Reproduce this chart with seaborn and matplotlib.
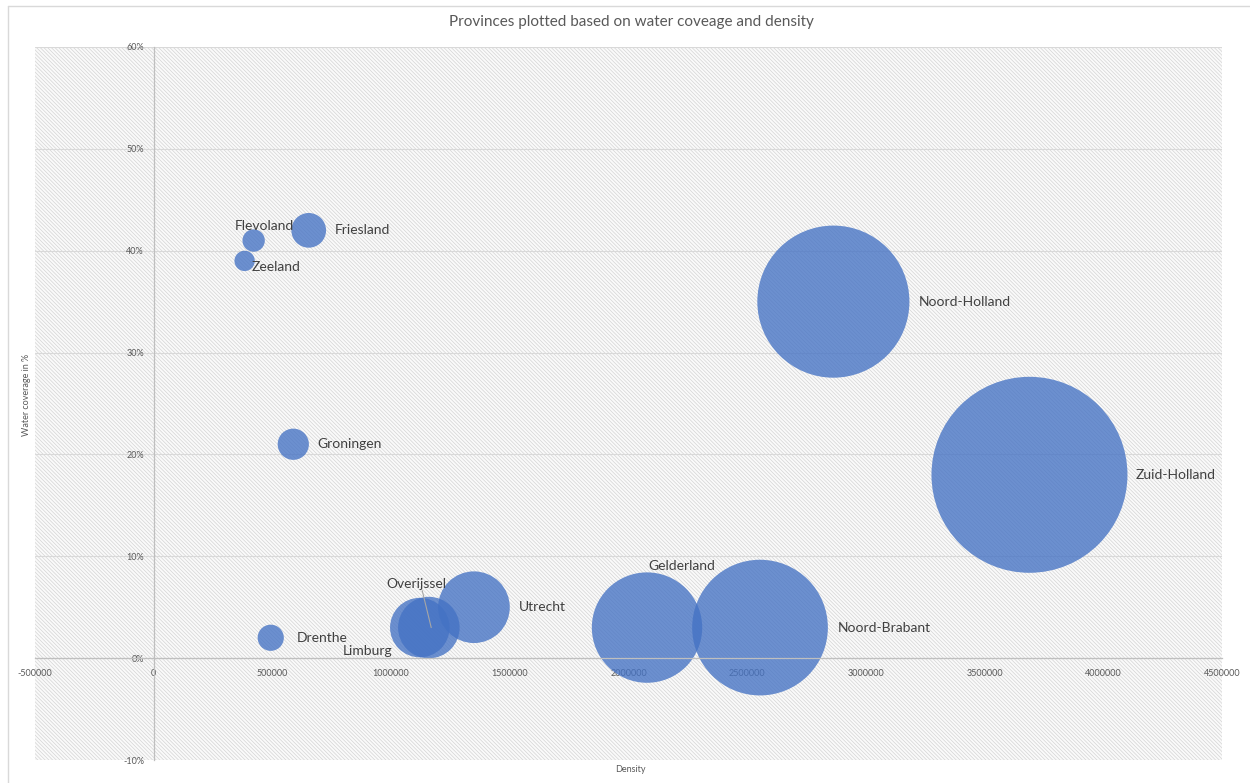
import matplotlib
matplotlib.use("Agg")
import matplotlib.pyplot as plt
from matplotlib.patches import Rectangle
from matplotlib.lines import Line2D
from matplotlib.ticker import FuncFormatter
import seaborn as sns
import pandas as pd

# ---- data ----
provinces = ["Flevoland", "Zeeland", "Friesland", "Groningen", "Drenthe", "Limburg",
             "Overijssel", "Utrecht", "Gelderland", "Noord-Brabant", "Noord-Holland", "Zuid-Holland"]
density = [421000, 383000, 653000, 588000, 493000, 1121000,
           1159000, 1349000, 2078000, 2554000, 2863000, 3689000]
water_coverage = [0.41, 0.39, 0.42, 0.21, 0.02, 0.03,
                  0.03, 0.05, 0.03, 0.03, 0.35, 0.18]
bubble_size = [421000, 383000, 653000, 588000, 493000, 1121000,
               1159000, 1349000, 2078000, 2554000, 2863000, 3689000]
x_ticks = [-500000, 0, 500000, 1000000, 1500000, 2000000, 2500000, 3000000, 3500000, 4000000, 4500000]
y_ticks = [-0.10, 0.0, 0.10, 0.20, 0.30, 0.40, 0.50, 0.60]

title = "Provinces plotted based on water coveage and density"
x_label = "Density"
y_label = "Water coverage in %"

# ---- layout: label offsets in pixels (dx, dy up positive, ha) ----
label_layout = {
    "Flevoland": (11, 15, "center"),
    "Zeeland": (7, -6, "left"),
    "Friesland": (26, 0, "left"),
    "Groningen": (24, 0, "left"),
    "Drenthe": (26, 0, "left"),
    "Limburg": (-27, -23, "right"),
    "Overijssel": (-12, 44, "center"),
    "Utrecht": (45, 0, "left"),
    "Gelderland": (35, 62, "center"),
    "Noord-Brabant": (78, 0, "left"),
    "Noord-Holland": (85, 0, "left"),
    "Zuid-Holland": (106, 0, "left"),
}

df = pd.DataFrame({"province": provinces, "density": density,
                   "water": water_coverage, "bubble": bubble_size})
df["area"] = df["bubble"] ** 2

sns.set_theme(style="white")
plt.rcParams["font.family"] = ["Lato", "DejaVu Sans"]
plt.rcParams["hatch.linewidth"] = 0.5

W, H, DPI = 1250, 783, 100
fig = plt.figure(figsize=(W / DPI, H / DPI), dpi=DPI)
fig.patch.set_facecolor("white")

left_px, right_px, top_px, bottom_px = 35, 1222, 47, 760
ax = fig.add_axes([left_px / W, 1 - bottom_px / H,
                   (right_px - left_px) / W, (bottom_px - top_px) / H])

# hatched plot-area background
ax.patch.set_facecolor("white")
bg = Rectangle((0, 0), 1, 1, transform=ax.transAxes, facecolor="#fafafa",
               edgecolor="#d4d4d4", hatch="\\" * 9, linewidth=0, zorder=0)
ax.add_patch(bg)

# max bubble radius in px -> marker area in points^2
max_r_px = 98
s_max = (2 * max_r_px * 72 / DPI) ** 2
sns.scatterplot(data=df, x="density", y="water", size="area",
                sizes=(0, s_max), size_norm=(0, df["area"].max()),
                color="#4472C4", alpha=0.78, linewidth=0, legend=False,
                ax=ax, zorder=1)

ax.set_xlim(-500000, 4500000)
ax.set_ylim(-0.10, 0.60)
ax.set_xticks(x_ticks)
ax.set_yticks(y_ticks)
ax.xaxis.set_major_formatter(FuncFormatter(lambda v, p: f"{int(round(v))}"))
ax.yaxis.set_major_formatter(FuncFormatter(lambda v, p: f"{v * 100:.0f}%"))

ax.set_axisbelow(True)
ax.yaxis.grid(True, color="#d9d9d9", linewidth=0.8)
ax.xaxis.grid(False)

for side in ["top", "right"]:
    ax.spines[side].set_visible(False)
ax.spines["left"].set_position(("data", 0))
ax.spines["bottom"].set_position(("data", 0))
for side in ["left", "bottom"]:
    ax.spines[side].set_color("#bfbfbf")
    ax.spines[side].set_linewidth(0.9)
    ax.spines[side].set_zorder(2.5)

ax.tick_params(axis="both", which="major", labelsize=6.5, labelcolor="#595959",
               color="#bfbfbf", length=3, width=0.8, direction="out")
ax.tick_params(axis="y", pad=4)
ax.tick_params(axis="x", pad=5)
ax.set_xlabel("")
ax.set_ylabel("")

# data labels
for name, xv, yv in zip(provinces, density, water_coverage):
    dx, dy, ha = label_layout[name]
    ax.annotate(name, xy=(xv, yv), xytext=(dx * 0.72, dy * 0.72),
                textcoords="offset points", ha=ha, va="center",
                fontsize=10, color="#404040", zorder=5)

# leader line for Overijssel
i = provinces.index("Overijssel")
ax.annotate("", xy=(density[i] + 10000, water_coverage[i]), xytext=(-9 * 0.72, 37 * 0.72),
            textcoords="offset points",
            arrowprops=dict(arrowstyle="-", color="#a6a6a6", lw=0.8,
                            shrinkA=0, shrinkB=0), zorder=5)

# titles
fig.text(631 / W, 1 - 22 / H, title, ha="center", va="center",
         fontsize=11, color="#595959")
fig.text(630 / W, 1 - 769 / H, x_label, ha="center", va="center",
         fontsize=6.5, color="#595959")
fig.text(27 / W, 1 - 395 / H, y_label, ha="center", va="center",
         rotation=90, fontsize=6.5, color="#595959")

# chart border (partial, as in the screenshot)
fig.add_artist(Line2D([8 / W, 8 / W], [0, 1 - 6 / H], transform=fig.transFigure,
                      color="#d9d9d9", lw=1))
fig.add_artist(Line2D([8 / W, 1], [1 - 6 / H, 1 - 6 / H], transform=fig.transFigure,
                      color="#d9d9d9", lw=1))

fig.savefig("out.png", dpi=DPI, facecolor="white")
